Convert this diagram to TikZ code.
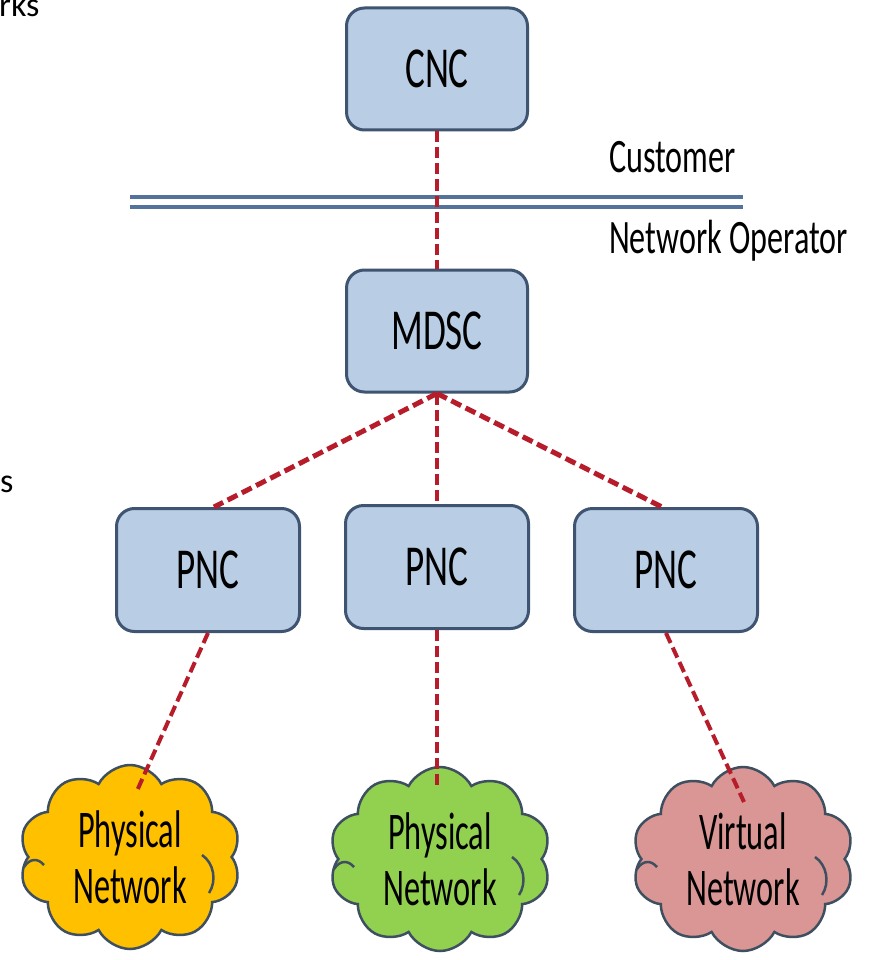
\documentclass[tikz,border=0pt]{standalone}
\usepackage{fontspec}
\setmainfont{Carlito}
\newfontfamily\plainfont{Carlito}
\newfontfamily\boxfont[FakeStretch=0.64]{Carlito}
\newfontfamily\cloudfont[FakeStretch=0.61]{Carlito}
\newfontfamily\sidefont[FakeStretch=0.67]{Carlito}
\usetikzlibrary{shapes.symbols,calc}
\definecolor{boxfill}{RGB}{185,205,229}
\definecolor{boxline}{RGB}{62,84,112}
\definecolor{dashred}{RGB}{182,28,42}
\definecolor{sepline}{RGB}{84,115,155}
\definecolor{cyellow}{RGB}{255,192,0}
\definecolor{cgreen}{RGB}{146,208,80}
\definecolor{cpink}{RGB}{218,150,148}
\definecolor{cloudline}{RGB}{62,80,96}
\begin{document}
\begin{tikzpicture}[x=1pt,y=-1pt,
 ctrl/.style={draw=boxline, line width=3pt, fill=boxfill, rounded corners=18pt, minimum width=181pt, minimum height=122pt, font=\boxfont\fontsize{58}{64}\selectfont, inner sep=0pt},
 netcloud/.style={cloud, cloud puffs=10, cloud puff arc=125, cloud ignores aspect, draw=cloudline, line width=2.5pt, minimum width=222pt, minimum height=184pt, align=center, font=\cloudfont\fontsize{53}{56}\selectfont, inner sep=0pt},
 innerarc/.style={draw=cloudline, line width=2.5pt},
 link/.style={draw=dashred, line width=4pt, dash pattern=on 11pt off 5pt},
 sidelabel/.style={font=\sidefont\fontsize{48}{52}\selectfont, anchor=base west, inner sep=0pt},
 fragment/.style={font=\plainfont\fontsize{34}{40}\selectfont, anchor=base west, inner sep=0pt}]
\useasboundingbox (0,0) rectangle (871,960);
\fill[white] (0,0) rectangle (871,960);

\node[fragment] (frag1) at (-1,17) {rks};
\node[fragment] (frag2) at (0,492) {s};

\draw[sepline, line width=4.5pt] (130,197) -- (743,197);
\draw[sepline, line width=4.5pt] (130,207) -- (743,207);

\node[sidelabel] (cust) at (609,172) {Customer};
\node[sidelabel] (netop) at (609,253) {Network Operator};

\node[ctrl] (cnc) at (437,69) {CNC};
\node[ctrl] (mdsc) at (437,331) {MDSC};
\node[ctrl, minimum width=183pt, minimum height=123pt] (pncL) at (208,570) {PNC};
\node[ctrl, minimum width=183pt, minimum height=123pt] (pncM) at (437,567) {PNC};
\node[ctrl, minimum width=183pt, minimum height=123pt] (pncR) at (666,570) {PNC};

\node[netcloud, fill=cyellow] (cloudL) at (130,857) {Physical\\Network};
\node[netcloud, fill=cgreen] (cloudM) at (440,859) {Physical\\Network};
\node[netcloud, fill=cpink] (cloudR) at (743,859) {Virtual\\Network};

\foreach \c in {cloudL,cloudM,cloudR}{
  \draw[innerarc] ($(\c.center)+(-106,10)$) .. controls ($(\c.center)+(-100,1)$) and ($(\c.center)+(-92,1)$) .. ($(\c.center)+(-86,8)$);
  \draw[innerarc] ($(\c.center)+(72,-2)$) .. controls ($(\c.center)+(84,6)$) and ($(\c.center)+(87,24)$) .. ($(\c.center)+(79,36)$);
}

\coordinate (endL) at ($(cloudL.center)+(6,-64)$);
\coordinate (endM) at ($(cloudM.center)+(-3,-70)$);
\coordinate (endR) at ($(cloudR.center)+(1,-57)$);

\draw[link, line width=3.5pt] (cnc.south) -- (mdsc.north);
\draw[link, line width=5pt] (mdsc.south) -- ($(pncL.north)+(6,0)$);
\draw[link, line width=3.5pt] (mdsc.south) -- (pncM.north);
\draw[link, line width=5pt] (mdsc.south) -- ($(pncR.north)+(-4,0)$);
\draw[link] (pncL.south) -- (endL);
\draw[link, line width=3.5pt] (pncM.south) -- (endM);
\draw[link] (pncR.south) -- (endR);
\end{tikzpicture}
\end{document}
